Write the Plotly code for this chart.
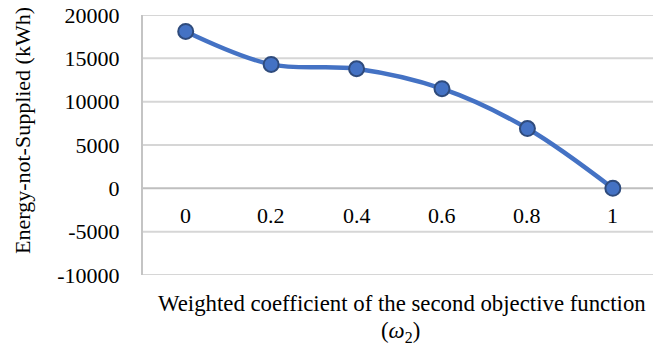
import plotly.graph_objects as go

categories = ["0", "0.2", "0.4", "0.6", "0.8", "1"]
ens_values = [18100, 14300, 13800, 11500, 6900, 0]
y_ticks = [-10000, -5000, 0, 5000, 10000, 15000, 20000]

FONT = "Times New Roman, Liberation Serif, DejaVu Serif, serif"
W, H = 653, 346
L, R, T, B = 143, 0, 15, 71

x_idx = list(range(len(categories)))

fig = go.Figure()
fig.add_trace(go.Scatter(
    x=x_idx, y=ens_values, mode="lines+markers",
    line=dict(color="#4472C4", width=4.5, shape="spline", smoothing=1),
    marker=dict(size=15, color="#4472C4", line=dict(color="#2F4B7C", width=2)),
    showlegend=False, hoverinfo="skip",
))

annotations = []
for i, c in zip(x_idx, categories):
    annotations.append(dict(x=i, y=0, xref="x", yref="y", text=c, showarrow=False,
                            yshift=-27.5, font=dict(family=FONT, size=22, color="#000")))

pw = W - L - R
ph = H - T - B
def px_x(x):
    return (x - L) / pw
def px_y(y):
    return (H - B - y) / ph

annotations.append(dict(x=px_x(22), y=px_y(131), xref="paper", yref="paper",
                        text="Energy-not-Supplied (kWh)", textangle=-90, showarrow=False,
                        xanchor="center", yanchor="middle",
                        font=dict(family=FONT, size=22, color="#000")))
annotations.append(dict(x=px_x(402), y=px_y(303), xref="paper", yref="paper",
                        text="Weighted coefficient of the second objective function", showarrow=False,
                        xanchor="center", yanchor="middle",
                        font=dict(family=FONT, size=22.8, color="#000")))
annotations.append(dict(x=px_x(400), y=px_y(332), xref="paper", yref="paper",
                        text="(<i>ω</i><sub>2</sub>)", showarrow=False,
                        xanchor="center", yanchor="middle",
                        font=dict(family=FONT, size=22.8, color="#000")))

shapes = []
for v in y_ticks:
    shapes.append(dict(type="line", xref="paper", yref="y", x0=0, x1=1, y0=v, y1=v,
                       layer="below",
                       line=dict(color="#BFBFBF" if v == 0 else "#D6D6D6", width=2)))

fig.update_layout(
    template="none",
    width=W, height=H,
    margin=dict(l=L, r=R, t=T, b=B, pad=0),
    paper_bgcolor="white", plot_bgcolor="white",
    xaxis=dict(range=[-0.5, 5.47], showticklabels=False,
               showgrid=False, zeroline=False, showline=False, ticks=""),
    yaxis=dict(range=[-10000, 20000], tickmode="array", tickvals=y_ticks,
               ticktext=[str(v) for v in y_ticks],
               showgrid=False, zeroline=False,
               showline=True, linecolor="#C4C4C4", linewidth=2,
               ticks="outside", ticklen=17, tickcolor="rgba(255,255,255,0)",
               tickfont=dict(family=FONT, size=22, color="#000")),
    shapes=shapes,
    annotations=annotations,
)

fig.write_html("out.html")
